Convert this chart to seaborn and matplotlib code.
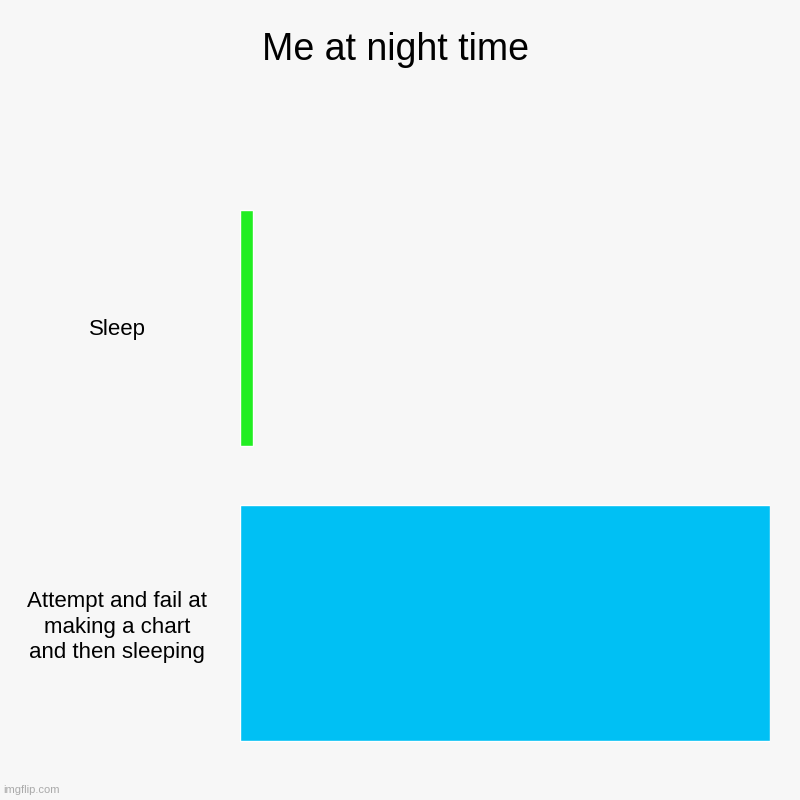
import matplotlib
matplotlib.use("Agg")
import matplotlib.pyplot as plt
import pandas as pd
import seaborn as sns

categories = ["Sleep", "Attempt and fail at\nmaking a chart\nand then sleeping"]
values = [2.5, 100]
colors = ["#22EE22", "#00C0F4"]
title = "Me at night time"

BG = "#F7F7F7"

sns.set_theme(style="white")
plt.rcParams["font.family"] = ["Liberation Sans", "DejaVu Sans"]

df = pd.DataFrame({"category": categories, "value": values})

fig = plt.figure(figsize=(8, 8), dpi=100, facecolor=BG)
ax = fig.add_axes([0.2995, 0.0375, 0.663, 0.7375], facecolor=BG)

sns.barplot(data=df, y="category", x="value", hue="category", palette=colors,
            orient="h", width=0.8, legend=False, ax=ax, saturation=1)

ax.set_xlim(0, max(values))
ax.set_ylim(1.5, -0.5)
ax.set_xlabel("")
ax.set_ylabel("")
ax.set_xticks([])
for s in ax.spines.values():
    s.set_visible(False)
ax.tick_params(axis="y", length=0, pad=88, labelsize=16)
for lab in ax.get_yticklabels():
    lab.set_horizontalalignment("center")
    lab.set_linespacing(1.28)
    lab.set_color("black")

fig.text(0.494, 0.937, title, ha="center", va="center", fontsize=27, color="black")
fig.text(0.004, 0.012, "imgflip.com", ha="left", va="center", fontsize=8, color="#AAAAAA")

fig.savefig("out.png", dpi=100, facecolor=BG)
